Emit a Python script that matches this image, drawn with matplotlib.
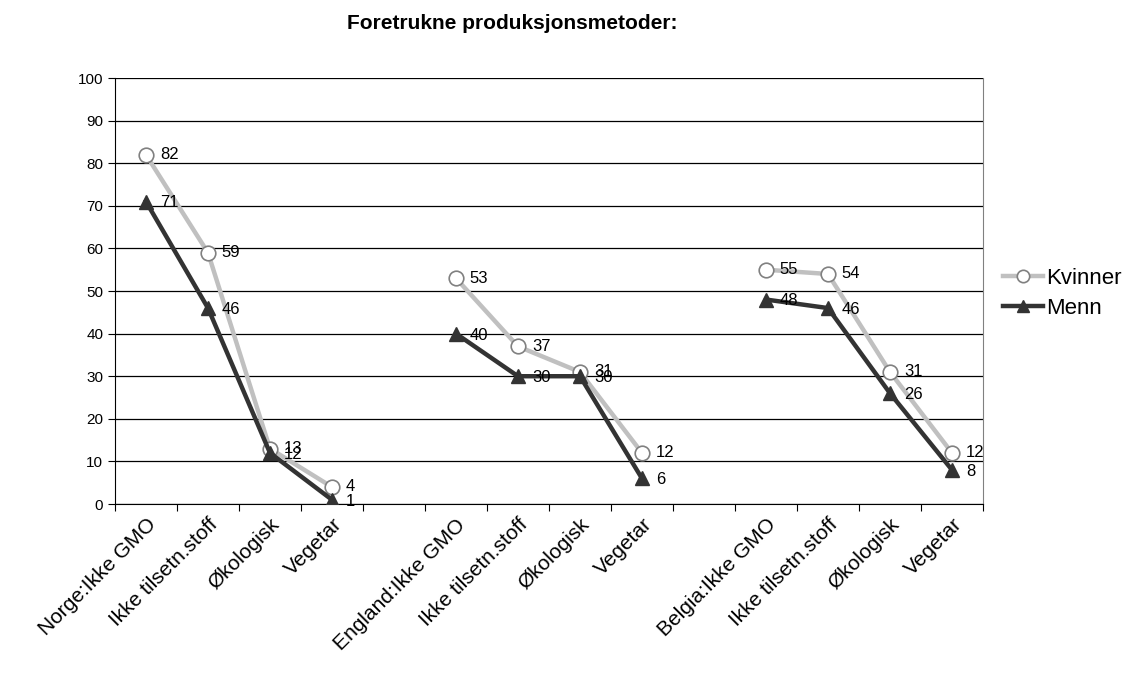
import numpy as np
import matplotlib.pyplot as plt

plt.rcParams['font.family'] = ['Liberation Sans', 'DejaVu Sans']

# categories (empty strings are the gaps between countries)
categories = ["Norge:Ikke GMO", "Ikke tilsetn.stoff", "Økologisk", "Vegetar", "",
              "England:Ikke GMO", "Ikke tilsetn.stoff", "Økologisk", "Vegetar", "",
              "Belgia:Ikke GMO", "Ikke tilsetn.stoff", "Økologisk", "Vegetar"]
kvinner = [82, 59, 13, 4, None, 53, 37, 31, 12, None, 55, 54, 31, 12]
menn = [71, 46, 12, 1, None, 40, 30, 30, 6, None, 48, 46, 26, 8]

x = np.arange(len(categories))
kv = np.array([np.nan if v is None else v for v in kvinner], dtype=float)
me = np.array([np.nan if v is None else v for v in menn], dtype=float)

fig = plt.figure(figsize=(11.26, 6.75), dpi=100)
ax = fig.add_axes([0.1021, 0.2533, 0.8730 - 0.1021, 0.8844 - 0.2533])

ax.set_xlim(-0.5, len(categories) - 0.5)
ax.set_ylim(0, 100)
ax.set_yticks(np.arange(0, 101, 10))
ax.yaxis.grid(True, color="black", linewidth=0.9)
ax.set_axisbelow(True)

ax.plot(x, kv, color="#c0c0c0", linewidth=3.2, marker="o", markersize=10.5,
        markerfacecolor="white", markeredgecolor="#808080", markeredgewidth=1.2,
        label="Kvinner", zorder=3)
ax.plot(x, me, color="#333333", linewidth=3.2, marker="^", markersize=10.5,
        markerfacecolor="#333333", markeredgecolor="#333333",
        label="Menn", zorder=4)

for xi, v in zip(x, kv):
    if not np.isnan(v):
        ax.annotate(f"{int(v)}", (xi, v), xytext=(10, 0), textcoords="offset points",
                    ha="left", va="center", fontsize=12, zorder=5)
for xi, v in zip(x, me):
    if not np.isnan(v):
        ax.annotate(f"{int(v)}", (xi, v), xytext=(10, -1), textcoords="offset points",
                    ha="left", va="center", fontsize=12, zorder=5)

# category labels, ticks sit on the boundaries
ax.set_xticks(np.arange(-0.5, len(categories), 1.0))
ax.set_xticklabels([])
ax.set_xticks(x, minor=True)
ax.set_xticklabels(categories, minor=True, rotation=45, ha="right",
                   rotation_mode="anchor", fontsize=15)
ax.tick_params(axis="x", which="minor", length=0, pad=8)
ax.tick_params(axis="x", which="major", length=5, direction="out", color="black")
ax.tick_params(axis="y", length=5, direction="out", labelsize=11)

for s in ["left", "bottom"]:
    ax.spines[s].set_color("black")
ax.spines["top"].set_visible(False)
ax.spines["right"].set_color("#808080")

fig.text(0.455, 0.965, "Foretrukne produksjonsmetoder:", ha="center", va="center",
         fontsize=15, fontweight="bold")

ax.legend(loc="center left", bbox_to_anchor=(1.0, 0.495), frameon=False,
          fontsize=16, handlelength=1.8, handletextpad=0.15, labelspacing=0.4,
          markerscale=0.85)

fig.savefig("out.png", dpi=100)
